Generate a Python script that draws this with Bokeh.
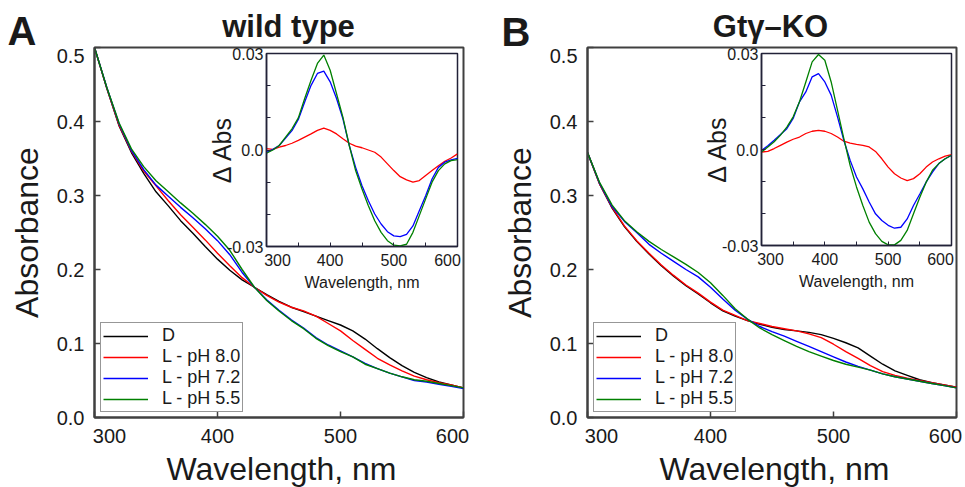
from bokeh.plotting import figure
from bokeh.models import Range1d, FixedTicker, Legend, LegendItem, Label
from bokeh.layouts import row
from bokeh.embed import file_html
from bokeh.resources import INLINE

FONT = "Liberation Sans"

# ---------------- data ----------------
WAVELENGTH = [300, 310, 320, 330, 340, 350, 360, 370, 380, 390, 400, 410, 420, 430, 440, 450,
              460, 470, 480, 490, 500, 510, 520, 530, 540, 550, 560, 570, 580, 590, 600]

SERIES_NAMES = ["D", "L - pH 8.0", "L - pH 7.2", "L - pH 5.5"]
SERIES_COLORS = ["#000000", "#ff0000", "#0000ff", "#008000"]
DIFF_COLORS = ["#ff0000", "#0000ff", "#008000"]

PANEL_LETTERS = ["A", "B"]
PANEL_TITLES = ["wild type", "Gtγ–KO"]
X_TITLE = "Wavelength, nm"
Y_TITLE = "Absorbance"
INSET_Y_TITLE = "Δ Abs"

# Panel A (wild type) absorbance
WT_D = [0.500, 0.445, 0.394, 0.358, 0.330, 0.305, 0.286, 0.266, 0.249, 0.231, 0.214, 0.199, 0.186, 0.176, 0.166, 0.157,
        0.149, 0.143, 0.137, 0.131, 0.125, 0.117, 0.106, 0.093, 0.081, 0.070, 0.061, 0.054, 0.048, 0.044, 0.040]
WT_L80 = [0.500, 0.445, 0.395, 0.360, 0.333, 0.313, 0.293, 0.274, 0.257, 0.240, 0.222, 0.205, 0.189, 0.176, 0.165, 0.156,
          0.149, 0.144, 0.137, 0.127, 0.117, 0.104, 0.092, 0.080, 0.071, 0.063, 0.056, 0.051, 0.047, 0.044, 0.040]
WT_L72 = [0.500, 0.446, 0.397, 0.361, 0.335, 0.314, 0.299, 0.284, 0.270, 0.255, 0.239, 0.220, 0.196, 0.176, 0.159, 0.145,
          0.132, 0.121, 0.108, 0.098, 0.090, 0.082, 0.073, 0.066, 0.060, 0.055, 0.050, 0.048, 0.045, 0.042, 0.039]
WT_L55 = [0.500, 0.446, 0.398, 0.363, 0.339, 0.320, 0.305, 0.290, 0.276, 0.261, 0.245, 0.226, 0.200, 0.176, 0.158, 0.144,
          0.131, 0.120, 0.107, 0.097, 0.089, 0.082, 0.072, 0.066, 0.060, 0.055, 0.051, 0.049, 0.046, 0.043, 0.040]

# Panel A inset (difference spectra)
WT_DIFF80 = [0.0004, 0.0002, 0.0009, 0.0014, 0.0021, 0.0030, 0.0040, 0.0050, 0.0061, 0.0068, 0.0061, 0.0050, 0.0035, 0.0021,
             0.0012, 0.0007, 0.0000, -0.0007, -0.0022, -0.0043, -0.0064, -0.0083, -0.0093, -0.0100, -0.0095, -0.0079,
             -0.0064, -0.0049, -0.0035, -0.0025, -0.0012]
WT_DIFF72 = [-0.0007, 0.0002, 0.0014, 0.0037, 0.0060, 0.0095, 0.0149, 0.0201, 0.0238, 0.0245, 0.0212, 0.0160, 0.0097, 0.0014,
             -0.0054, -0.0111, -0.0158, -0.0199, -0.0230, -0.0254, -0.0267, -0.0269, -0.0262, -0.0236, -0.0189, -0.0142,
             -0.0090, -0.0054, -0.0038, -0.0031, -0.0026]
WT_DIFF55 = [-0.0010, 0.0000, 0.0014, 0.0040, 0.0066, 0.0100, 0.0160, 0.0217, 0.0269, 0.0295, 0.0248, 0.0175, 0.0102, 0.0014,
             -0.0064, -0.0121, -0.0173, -0.0220, -0.0256, -0.0282, -0.0296, -0.0298, -0.0293, -0.0256, -0.0204, -0.0152,
             -0.0100, -0.0064, -0.0043, -0.0033, -0.0030]

# Panel B (Gtγ-KO) absorbance
KO_D = [0.358, 0.315, 0.283, 0.258, 0.238, 0.221, 0.205, 0.191, 0.178, 0.167, 0.155, 0.144, 0.137, 0.131, 0.126, 0.122,
        0.119, 0.117, 0.115, 0.112, 0.107, 0.101, 0.094, 0.083, 0.072, 0.063, 0.057, 0.051, 0.047, 0.044, 0.041]
KO_L80 = [0.358, 0.315, 0.284, 0.259, 0.239, 0.222, 0.206, 0.192, 0.179, 0.168, 0.156, 0.145, 0.138, 0.131, 0.127, 0.123,
          0.120, 0.117, 0.113, 0.108, 0.099, 0.089, 0.080, 0.070, 0.062, 0.057, 0.053, 0.050, 0.047, 0.044, 0.041]
KO_L72 = [0.358, 0.316, 0.285, 0.265, 0.250, 0.234, 0.222, 0.211, 0.200, 0.190, 0.176, 0.160, 0.145, 0.133, 0.123, 0.116,
          0.110, 0.103, 0.096, 0.089, 0.082, 0.075, 0.069, 0.064, 0.059, 0.055, 0.052, 0.049, 0.046, 0.043, 0.040]
KO_L55 = [0.358, 0.317, 0.287, 0.266, 0.251, 0.238, 0.227, 0.217, 0.207, 0.196, 0.182, 0.165, 0.147, 0.133, 0.121, 0.112,
          0.104, 0.096, 0.089, 0.083, 0.077, 0.072, 0.068, 0.064, 0.059, 0.055, 0.052, 0.049, 0.046, 0.043, 0.040]

# Panel B inset (difference spectra)
KO_DIFF80 = [-0.0008, -0.0006, 0.0003, 0.0013, 0.0023, 0.0032, 0.0039, 0.0050, 0.0057, 0.0060, 0.0057, 0.0050, 0.0039, 0.0026,
             0.0020, 0.0016, 0.0013, 0.0008, -0.0006, -0.0029, -0.0055, -0.0076, -0.0089, -0.0097, -0.0091, -0.0076,
             -0.0055, -0.0039, -0.0029, -0.0021, -0.0016]
KO_DIFF72 = [-0.0003, 0.0012, 0.0029, 0.0047, 0.0065, 0.0097, 0.0149, 0.0180, 0.0227, 0.0237, 0.0211, 0.0170, 0.0102, 0.0029,
             -0.0034, -0.0086, -0.0123, -0.0164, -0.0201, -0.0222, -0.0237, -0.0246, -0.0243, -0.0217, -0.0175, -0.0139,
             -0.0102, -0.0071, -0.0044, -0.0029, -0.0018]
KO_DIFF55 = [-0.0008, 0.0008, 0.0024, 0.0045, 0.0070, 0.0102, 0.0149, 0.0211, 0.0274, 0.0297, 0.0279, 0.0211, 0.0123, 0.0034,
             -0.0050, -0.0117, -0.0175, -0.0227, -0.0263, -0.0287, -0.0298, -0.0298, -0.0284, -0.0253, -0.0201, -0.0149,
             -0.0102, -0.0065, -0.0044, -0.0029, -0.0018]

# ticks
MAIN_X_TICKS = [300, 400, 500, 600]
MAIN_X_LABELS = ["300", "400", "500", "600"]
MAIN_Y_TICKS = [0.0, 0.1, 0.2, 0.3, 0.4, 0.5]
MAIN_Y_LABELS = ["0.0", "0.1", "0.2", "0.3", "0.4", "0.5"]
INSET_X_TICKS = [300, 400, 500, 600]
INSET_X_MINOR = [350, 450, 550]
INSET_X_LABELS = ["300", "400", "500", "600"]
INSET_Y_TICKS = [-0.03, 0.0, 0.03]
INSET_Y_MINOR = [-0.02, -0.01, 0.01, 0.02]
INSET_Y_LABELS = ["-0.03", "0.0", "0.03"]

FRAME = "#404040"
INSET_FRAME = "#222238"
TXT = "#1a1a1a"
W, H = 965, 487


def main_panel(series, width, bl, br):
    p = figure(width=width, height=H, x_range=Range1d(300, 600), y_range=Range1d(0, 0.5),
               output_backend="svg", toolbar_location=None,
               min_border_left=bl, min_border_right=br, min_border_top=47, min_border_bottom=70)
    p.grid.visible = False
    p.outline_line_color = FRAME
    p.outline_line_width = 2
    p.background_fill_color = "white"
    p.border_fill_color = "white"

    xa = p.xaxis[0]
    xa.ticker = FixedTicker(ticks=MAIN_X_TICKS)
    ov = {t: l for t, l in zip(MAIN_X_TICKS, MAIN_X_LABELS)}
    ov[MAIN_X_TICKS[0]] = ""      # end labels are drawn shifted inward (overlay)
    ov[MAIN_X_TICKS[-1]] = ""
    xa.major_label_overrides = ov
    ya = p.yaxis[0]
    ya.ticker = FixedTicker(ticks=MAIN_Y_TICKS)
    ovy = {t: l for t, l in zip(MAIN_Y_TICKS, MAIN_Y_LABELS)}
    ovy[MAIN_Y_TICKS[-1]] = ""
    ya.major_label_overrides = ovy
    for ax in (xa, ya):
        ax.axis_line_color = FRAME
        ax.axis_line_width = 2
        ax.major_tick_line_color = FRAME
        ax.major_tick_line_width = 1.5
        ax.major_tick_in = 6
        ax.major_tick_out = 0
        ax.minor_tick_line_color = None
        ax.major_label_text_font = FONT
        ax.major_label_text_font_size = "20px"
        ax.major_label_text_color = TXT
    xa.major_label_standoff = 11
    ya.major_label_standoff = 10
    ya.axis_label = Y_TITLE
    ya.axis_label_text_font = FONT
    ya.axis_label_text_font_size = "32px"
    ya.axis_label_text_font_style = "normal"
    ya.axis_label_text_color = TXT
    ya.axis_label_standoff = 9

    items = []
    for name, color, ys in zip(SERIES_NAMES, SERIES_COLORS, series):
        r = p.line(WAVELENGTH, ys, line_color=color, line_width=1.4)
        items.append(LegendItem(label=name, renderers=[r]))
    leg = Legend(items=items, location=(6, 5), glyph_width=45, glyph_height=20, label_height=20,
                 label_standoff=14, padding=2, spacing=0, margin=0,
                 border_line_color="#303030", border_line_width=1.5,
                 background_fill_color="white", background_fill_alpha=1.0,
                 label_text_font=FONT, label_text_font_size="18px", label_text_color=TXT,
                 label_text_baseline="middle")
    p.add_layout(leg)
    return p


def inset_panel(series, left, top, fw, fh):
    q = figure(width=60 + fw + 4, height=8 + fh + 50, x_range=Range1d(300, 600), y_range=Range1d(-0.03, 0.03),
               output_backend="svg", toolbar_location=None,
               min_border_left=60, min_border_right=4, min_border_top=8, min_border_bottom=50)
    q.grid.visible = False
    q.outline_line_color = INSET_FRAME
    q.outline_line_width = 1.5
    q.background_fill_color = "white"
    q.border_fill_color = None

    xa = q.xaxis[0]
    xa.ticker = FixedTicker(ticks=INSET_X_TICKS, minor_ticks=INSET_X_MINOR)
    ov = {t: l for t, l in zip(INSET_X_TICKS, INSET_X_LABELS)}
    ov[INSET_X_TICKS[0]] = ""
    ov[INSET_X_TICKS[-1]] = ""
    xa.major_label_overrides = ov
    ya = q.yaxis[0]
    ya.ticker = FixedTicker(ticks=INSET_Y_TICKS, minor_ticks=INSET_Y_MINOR)
    ya.major_label_overrides = {t: l for t, l in zip(INSET_Y_TICKS, INSET_Y_LABELS)}
    for ax in (xa, ya):
        ax.axis_line_color = INSET_FRAME
        ax.axis_line_width = 1.5
        ax.major_tick_line_color = INSET_FRAME
        ax.minor_tick_line_color = INSET_FRAME
        ax.major_tick_in = 4
        ax.major_tick_out = 0
        ax.minor_tick_in = 4
        ax.minor_tick_out = 0
        ax.major_label_text_font = FONT
        ax.major_label_text_font_size = "16px"
        ax.major_label_text_color = TXT
        ax.axis_label_text_font = FONT
        ax.axis_label_text_font_style = "normal"
        ax.axis_label_text_color = TXT
    xa.major_label_standoff = 7
    ya.major_label_standoff = 3
    xa.axis_label = X_TITLE
    xa.axis_label_text_font_size = "16px"
    xa.axis_label_standoff = 5
    ya.axis_label = INSET_Y_TITLE
    ya.axis_label_text_font_size = "25px"
    ya.axis_label_standoff = -12

    for color, ys in zip(DIFF_COLORS, series):
        q.line(WAVELENGTH, ys, line_color=color, line_width=1.3)
    q.styles = {"position": "absolute", "left": f"{left}px", "top": f"{top}px"}
    return q


pA = main_panel([WT_D, WT_L80, WT_L72, WT_L55], 480, 94, 17)
pB = main_panel([KO_D, KO_L80, KO_L72, KO_L55], 485, 107, 9)
qA = inset_panel([WT_DIFF80, WT_DIFF72, WT_DIFF55], 205, 45, 192, 193)
qB = inset_panel([KO_DIFF80, KO_DIFF72, KO_DIFF55], 700, 45, 191, 192)

# transparent overlay (page pixel coordinates) for the free-standing texts
ov_fig = figure(width=W, height=H, x_range=Range1d(0, W), y_range=Range1d(H, 0),
                x_axis_type=None, y_axis_type=None, min_border=0,
                output_backend="svg", toolbar_location=None)
ov_fig.grid.visible = False
ov_fig.outline_line_color = None
ov_fig.background_fill_color = None
ov_fig.border_fill_color = None
ov_fig.styles = {"position": "absolute", "left": "0px", "top": "0px", "pointer-events": "none"}


def txt(text, x, y, size, align="center", baseline="middle", style="normal"):
    ov_fig.add_layout(Label(x=x, y=y, text=text, text_font=FONT, text_font_size=size,
                            text_align=align, text_baseline=baseline, text_font_style=style,
                            text_color=TXT))


# panel letters and titles
txt(PANEL_LETTERS[0], 7, 30, "40px", align="left", style="bold")
txt(PANEL_LETTERS[1], 501, 31, "40px", align="left", style="bold")
txt(PANEL_TITLES[0], 288, 26, "31px", style="bold")
txt(PANEL_TITLES[1], 770, 26, "31px", style="bold")
# main x-axis titles
txt(X_TITLE, 281, 468, "32px")
txt(X_TITLE, 774, 468, "32px")
# end tick labels of the main plots (shifted inward as in the original)
txt(MAIN_X_LABELS[0], 109, 428, "20px", baseline="top")
txt(MAIN_X_LABELS[-1], 452, 428, "20px", baseline="top")
txt(MAIN_X_LABELS[0], 601, 428, "20px", baseline="top")
txt(MAIN_X_LABELS[-1], 945, 428, "20px", baseline="top")
txt(MAIN_Y_LABELS[-1], 84, 55, "20px", align="right")
txt(MAIN_Y_LABELS[-1], 577, 55, "20px", align="right")
# end tick labels of the insets
txt(INSET_X_LABELS[0], 277, 253, "16px", baseline="top")
txt(INSET_X_LABELS[-1], 447, 253, "16px", baseline="top")
txt(INSET_X_LABELS[0], 770, 252, "16px", baseline="top")
txt(INSET_X_LABELS[-1], 940, 252, "16px", baseline="top")

layout = row(pA, pB)

open("out.html", "w").write(file_html([layout, qA, qB, ov_fig], INLINE))
